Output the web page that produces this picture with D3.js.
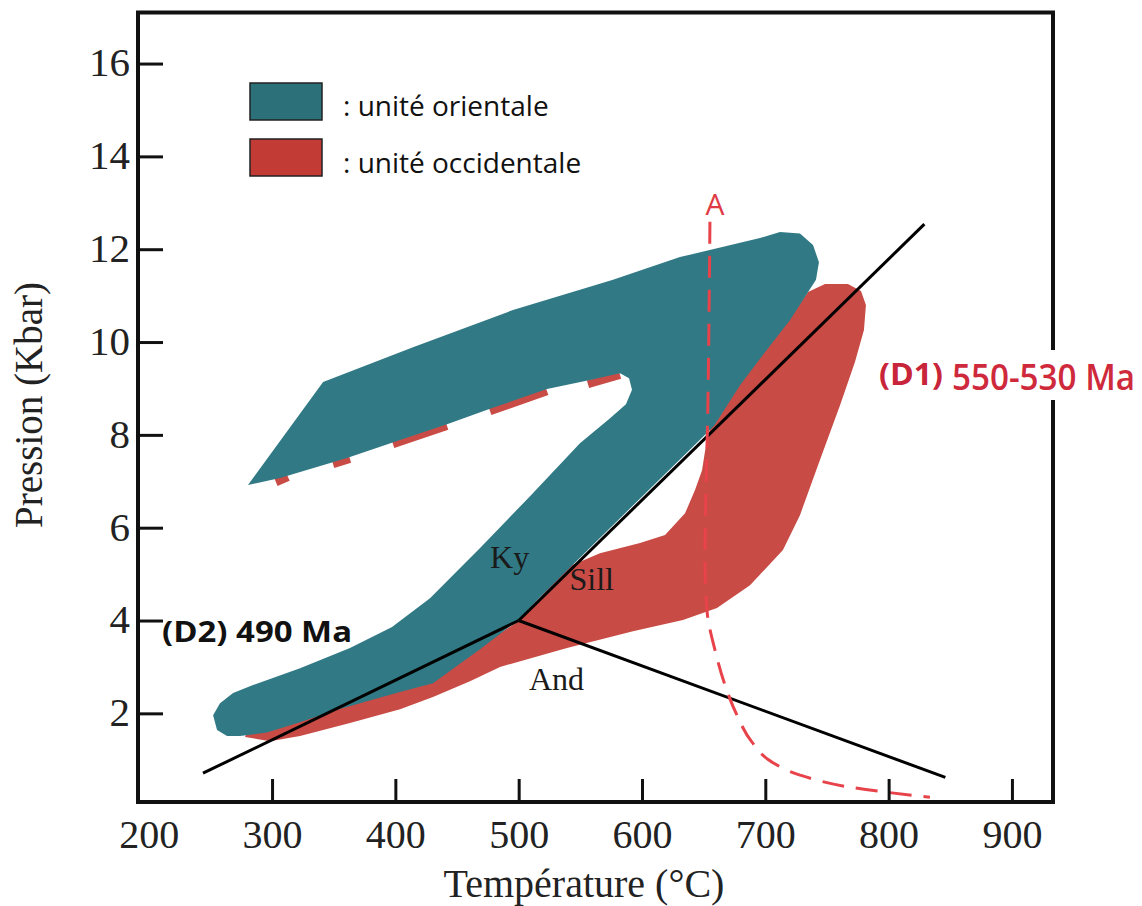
<!DOCTYPE html>
<html>
<head>
<meta charset="utf-8">
<script src="https://cdn.jsdelivr.net/npm/d3@7"></script>
<style>
  html, body { margin: 0; padding: 0; background: #fff; }
  svg { display: block; }
</style>
</head>
<body>
<svg id="chart" width="1142" height="906"></svg>
<script>
// ---------------- DATA (temperature °C, pressure kbar) ----------------
const xTicks = [200, 300, 400, 500, 600, 700, 800, 900];
const yTicks = [2, 4, 6, 8, 10, 12, 14, 16];
const xTitle = "Température (°C)";
const yTitle = "Pression (Kbar)";
const legendLabels = [": unité orientale", ": unité occidentale"];

// P-T path envelope, eastern unit (unité orientale)
const orientale = [
  [280.5, 6.92], [341.4, 9.14], [414.3, 9.89], [495.4, 10.69], [576.5, 11.34],
  [630.8, 11.83], [695.7, 12.24], [711.9, 12.37], [728.1, 12.34], [738.7, 12.09],
  [743.5, 11.72], [741.1, 11.34], [733.0, 11.01], [720.0, 10.47], [699.7, 9.78],
  [679.5, 9.07], [658.4, 8.19], [614.6, 7.05], [565.9, 5.78], [517.3, 4.50],
  [500.3, 4.03], [468.7, 3.38], [430.5, 2.65], [403.8, 2.46], [377.0, 2.26],
  [349.5, 2.05], [322.7, 1.81], [295.9, 1.59], [274.1, 1.51], [263.5, 1.51],
  [255.4, 1.64], [252.2, 1.96], [257.8, 2.22], [268.4, 2.44], [284.6, 2.61],
  [322.7, 2.97], [363.2, 3.41], [397.3, 3.86], [428.1, 4.48], [468.7, 5.56],
  [509.2, 6.68], [549.7, 7.82], [574.1, 8.36], [587.0, 8.66], [591.9, 8.97],
  [589.5, 9.22], [582.2, 9.33], [557.8, 9.18], [523.0, 8.99], [476.8, 8.56],
  [441.9, 8.23], [401.4, 7.87], [360.8, 7.50], [306.5, 7.07]
];

// P-T path envelope, western unit (unité occidentale)
const occidentale = [
  [278.1, 1.49], [298.4, 1.40], [322.7, 1.51], [363.2, 1.79], [403.8, 2.09],
  [430.5, 2.35], [460.5, 2.69], [484.9, 3.00], [539.2, 3.41], [592.7, 3.77],
  [633.2, 4.01], [660.8, 4.27], [687.6, 4.76], [714.3, 5.52], [728.1, 6.27],
  [744.3, 7.46], [760.6, 8.64], [772.7, 9.57], [780.0, 10.26], [781.6, 10.80],
  [777.6, 11.10], [767.0, 11.25], [748.4, 11.25], [734.6, 11.08], [720.0, 10.52],
  [699.7, 9.83], [679.5, 9.12], [656.8, 8.32], [651.9, 7.78], [648.7, 7.24],
  [643.0, 6.81], [634.9, 6.31], [618.7, 5.84], [598.4, 5.67], [565.9, 5.45],
  [539.2, 5.15], [500.3, 3.99], [468.7, 3.45], [430.5, 2.80], [403.8, 2.60],
  [363.2, 2.35], [322.7, 2.00], [282.2, 1.75]
];

// western unit trace visible below the upper arm of the eastern envelope
const occidentaleTrace = [
  [[303.2, 6.98], [313.0, 7.09]],
  [[349.5, 7.37], [363.2, 7.48]],
  [[398.1, 7.80], [441.9, 8.19]],
  [[476.8, 8.51], [523.0, 8.94]],
  [[556.2, 9.09], [582.2, 9.29]]
];

// Al2SiO5 triple point and reaction lines
const kyAnd   = [[244, 0.71], [500, 4.0]];
const kySill  = [[500, 4.0], [829, 12.54]];
const sillAnd = [[500, 4.0], [846, 0.62]];

// dashed curve A
const curveA = [
  [655.1, 12.59], [653.5, 8.75], [651.1, 5.30], [652.7, 4.22], [659.2, 3.36],
  [667.3, 2.61], [677.0, 1.96], [689.2, 1.38], [705.4, 0.95], [728.1, 0.67],
  [768.6, 0.41], [833.5, 0.19]
];

// annotations [T, P, text]
const phaseLabels = [[476.8, 5.13, "Ky"], [541.2, 4.66, "Sill"], [508.3, 2.50, "And"]];
const labelA = [659.2, 12.74, "A"];
const labelD2 = [210.8, 3.53, "(D2) 490 Ma"];
const labelD1a = [792.2, 9.07, "(D1)"];
const labelD1b = [851.4, 8.97, "550-530 Ma"];

// ---------------- DRAW ----------------
const svg = d3.select("#chart");
const x = d3.scaleLinear().domain([191.3, 933.3]).range([138, 1053]);
const y = d3.scaleLinear().domain([0.09, 17.1]).range([802, 12.5]);

const colTeal = "#317a85";
const colRed = "#c94b45";

const line = d3.line().x(d => x(d[0])).y(d => y(d[1]));
const closed = d3.line().x(d => x(d[0])).y(d => y(d[1])).curve(d3.curveLinearClosed);

// western unit
svg.append("path").attr("d", closed(occidentale)).attr("fill", colRed);
svg.selectAll("path.trace").data(occidentaleTrace).enter().append("path")
  .attr("class", "trace").attr("d", line)
  .attr("stroke", colRed).attr("stroke-width", 8).attr("fill", "none");
// eastern unit
svg.append("path").attr("d", closed(orientale)).attr("fill", colTeal);

// reaction lines
[kyAnd, kySill, sillAnd].forEach(l => {
  svg.append("path").attr("d", line(l)).attr("stroke", "#000")
    .attr("stroke-width", 3).attr("fill", "none");
});

// dashed A curve
svg.append("path").attr("d", d3.line().x(d => x(d[0])).y(d => y(d[1])).curve(d3.curveMonotoneY)(curveA))
  .attr("stroke", "#e8434a").attr("stroke-width", 3).attr("fill", "none")
  .attr("stroke-dasharray", "22,12");

// frame
svg.append("rect")
  .attr("x", x.range()[0]).attr("y", y.range()[1])
  .attr("width", x.range()[1] - x.range()[0])
  .attr("height", y.range()[0] - y.range()[1])
  .attr("fill", "none").attr("stroke", "#111").attr("stroke-width", 4);

// axes
const serif = "'Liberation Serif', 'DejaVu Serif', serif";
const sans = "'Open Sans', 'Noto Sans', sans-serif";

const gx = svg.append("g").attr("transform", `translate(0,${y.range()[0]})`)
  .call(d3.axisBottom(x).tickValues(xTicks).tickSizeInner(-23).tickSizeOuter(0).tickPadding(18).tickFormat(d3.format("d")));
gx.select(".domain").remove();
gx.selectAll(".tick line").attr("stroke", "#111").attr("stroke-width", 3)
  .filter(d => d === 200).remove();
gx.selectAll(".tick text").attr("font-family", serif).attr("font-size", 40).attr("fill", "#222");

const gy = svg.append("g").attr("transform", `translate(${x.range()[0]},0)`)
  .call(d3.axisLeft(y).tickValues(yTicks).tickSizeInner(-25).tickSizeOuter(0).tickPadding(8).tickFormat(d3.format("d")));
gy.select(".domain").remove();
gy.selectAll(".tick line").attr("stroke", "#111").attr("stroke-width", 3);
gy.selectAll(".tick text").attr("font-family", serif).attr("font-size", 41).attr("fill", "#222")
  .attr("dy", "0.3em");

// axis titles
svg.append("text").attr("x", 584).attr("y", 897).attr("text-anchor", "middle")
  .attr("font-family", serif).attr("font-size", 40).attr("fill", "#222").text(xTitle);
svg.append("text").attr("transform", "translate(42,405) rotate(-90)").attr("text-anchor", "middle")
  .attr("font-family", serif).attr("font-size", 39).attr("fill", "#222").text(yTitle);

// legend
const legendFill = ["#2c7079", "#c23b35"];
legendLabels.forEach((t, i) => {
  svg.append("rect").attr("x", 250).attr("y", 83 + i * 56).attr("width", 72).attr("height", 37)
    .attr("fill", legendFill[i]).attr("stroke", "#222").attr("stroke-width", 1.5);
  svg.append("text").attr("x", 343).attr("y", 116 + i * 57)
    .attr("font-family", sans).attr("font-size", 28).attr("fill", "#111").text(t);
});

// phase labels
svg.selectAll("text.phase").data(phaseLabels).enter().append("text")
  .attr("class", "phase").attr("x", d => x(d[0])).attr("y", d => y(d[1]))
  .attr("font-family", serif).attr("font-size", 32).attr("fill", "#1a1a1a").text(d => d[2]);

// A label
svg.append("text").attr("x", x(labelA[0])).attr("y", y(labelA[1])).attr("text-anchor", "middle")
  .attr("font-family", sans).attr("font-size", 30).attr("fill", "#e03a44").text(labelA[2]);

// D2 label
svg.append("text").attr("x", x(labelD2[0])).attr("y", y(labelD2[1]))
  .attr("font-family", sans).attr("font-weight", "bold").attr("font-size", 28)
  .attr("textLength", 190).attr("lengthAdjust", "spacingAndGlyphs")
  .attr("fill", "#111").text(labelD2[2]);

// D1 label with white box
svg.append("rect").attr("x", 860).attr("y", 350).attr("width", 282).attr("height", 50).attr("fill", "#fff");
svg.append("text").attr("x", x(labelD1a[0])).attr("y", y(labelD1a[1]))
  .attr("font-family", sans).attr("font-weight", "bold").attr("font-size", 30)
  .attr("textLength", 64).attr("lengthAdjust", "spacingAndGlyphs")
  .attr("fill", "#c8243a").text(labelD1a[2]);
svg.append("text").attr("x", x(labelD1b[0])).attr("y", y(labelD1b[1]))
  .attr("font-family", sans).attr("font-weight", 600).attr("font-size", 36)
  .attr("textLength", 183).attr("lengthAdjust", "spacingAndGlyphs")
  .attr("fill", "#cf2a3c").text(labelD1b[2]);
</script>
</body>
</html>
